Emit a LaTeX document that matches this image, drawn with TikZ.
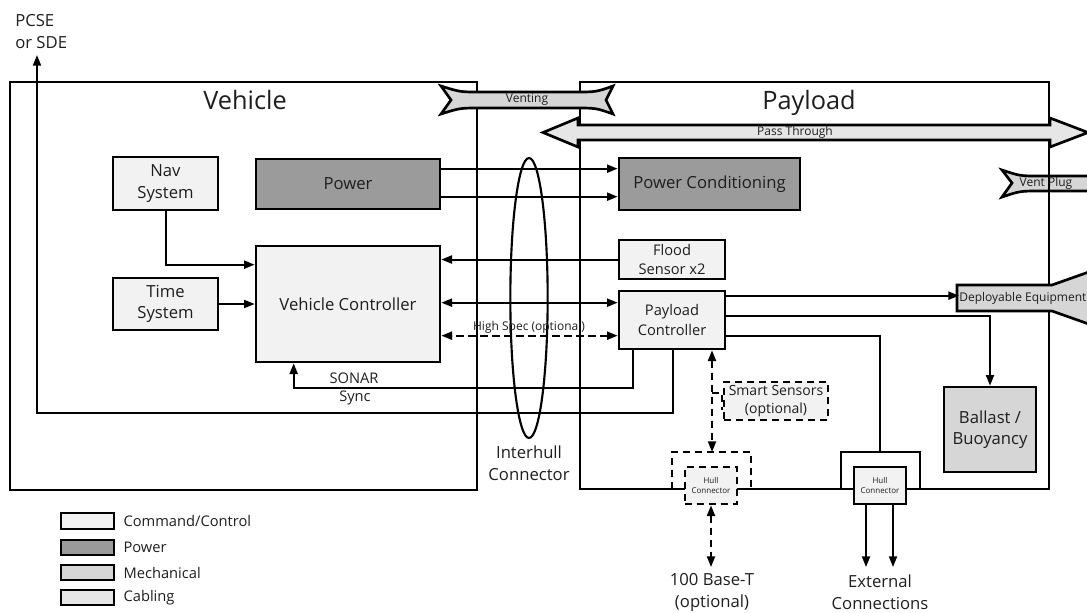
\documentclass[tikz,border=0pt]{standalone}
\usepackage{fontspec}
\setmainfont{Open Sans}
\usetikzlibrary{arrows.meta, positioning, calc, shapes.geometric}
\definecolor{cmd_gray}{HTML}{F2F2F2}
\definecolor{pow_gray}{HTML}{9B9B9B}
\definecolor{mech_gray}{HTML}{D6D6D6}
\definecolor{cab_gray}{HTML}{E6E6E6}
\definecolor{txt_gray}{HTML}{1E1E1E}
\tikzset{sz/.style 2 args={minimum width=#1*0.75pt, minimum height=#2*0.75pt}}

\begin{document}
\begin{tikzpicture}[
    x=0.75pt, y=-0.75pt,
    blk/.style={draw, line width=2pt, inner sep=0pt, align=center, text=txt_gray,
                font=\fontsize{12.5}{16}\selectfont},
    cmdbox/.style={blk, fill=cmd_gray},
    powbox/.style={blk, fill=pow_gray},
    mechbox/.style={blk, fill=mech_gray},
    cabbox/.style={blk, fill=cab_gray},
    wall/.style={line width=2pt},
    wire/.style={line width=1.5pt},
    arr/.style={wire, -{Triangle[length=8pt, width=6pt]}},
    darr/.style={wire, {Triangle[length=8pt, width=6pt]}-{Triangle[length=8pt, width=6pt]}},
    dashy/.style={dash pattern=on 5.5pt off 3.5pt},
    smalltxt/.style={text=txt_gray, inner sep=0pt, font=\fontsize{9}{10}\selectfont},
    midtxt/.style={text=txt_gray, inner sep=0pt, align=center, font=\fontsize{11}{14.5}\selectfont},
    bigtxt/.style={text=txt_gray, inner sep=0pt, align=center, font=\fontsize{12.5}{16.5}\selectfont}
]
\useasboundingbox (0,0) rectangle (1087,612);

% -------- Vent plug (under the payload wall) ----------------
\draw[wall, fill=mech_gray]
    (1002,170) .. controls (1020,176) .. (1040,176) -- (1080,176)
    .. controls (1100,176) .. (1118,170) -- (1108,183) -- (1118,197)
    .. controls (1100,191) .. (1080,191) -- (1040,191)
    .. controls (1020,191) .. (1002,197) -- (1012,183) -- cycle;
\node[smalltxt] (ventplug) at (1046,183) {Vent Plug};

% -------- Hulls ---------------------------------------------
\draw[wall] (10,82) rectangle (477,490);
\draw[wall] (580,82) rectangle (1049,489);
\node[text=txt_gray, anchor=base, font=\fontsize{19}{22}\selectfont] (vehtitle) at (245,109) {Vehicle};
\node[text=txt_gray, anchor=base, font=\fontsize{19}{22}\selectfont] (paytitle) at (809,109) {Payload};

% -------- Venting, pass through, deployable -----------------
\draw[wall, fill=mech_gray]
    (441,86) .. controls (460,92) .. (480,92) -- (575,92)
    .. controls (596,92) .. (613,86) -- (606,100) -- (613,114)
    .. controls (596,108) .. (575,108) -- (480,108)
    .. controls (460,108) .. (441,114) -- (451,100) -- cycle;
\node[smalltxt] (venting) at (527,100) {Venting};

\draw[wall, fill=cab_gray]
    (543,132.5) -- (578,118) -- (578,125) -- (1050,125) -- (1050,118)
    -- (1088,132.5) -- (1050,147) -- (1050,140) -- (578,140) -- (578,147) -- cycle;
\node[smalltxt] (passthru) at (795,132) {Pass Through};

\draw[wall, fill=mech_gray]
    (957,285) -- (1052,285) -- (1100,268) -- (1100,328) -- (1052,311) -- (957,311) -- cycle;
\node[smalltxt, anchor=west] (deploy) at (959,298) {Deployable Equipment};

% -------- Vehicle blocks ------------------------------------
\node[cmdbox, sz={105}{53}] (nav) at (165.5,183.5) {Nav\\System};
\node[powbox, sz={184}{50}] (power) at (348,184) {Power};
\node[cmdbox, sz={105}{52}] (time) at (165.5,304) {Time\\System};
\node[cmdbox, sz={184}{116}] (vc) at (348,304) {Vehicle Controller};

% -------- Payload blocks ------------------------------------
\node[powbox, sz={181}{52}] (pcond) at (709.5,184) {Power Conditioning};
\node[cmdbox, sz={106}{39}, font=\fontsize{11}{14.5}\selectfont] (flood) at (672,259.5) {Flood\\Sensor x2};
\node[cmdbox, sz={106}{58}, font=\fontsize{11}{14.5}\selectfont] (pc) at (672,320) {Payload\\Controller};
\node[cmdbox, dashy, sz={104}{38}, font=\fontsize{10.5}{13.5}\selectfont] (smart) at (776,401) {Smart Sensors\\(optional)};
\node[mechbox, sz={92}{85}] (ballast) at (990,429.5) {Ballast /\\Buoyancy};

% -------- Hull connectors -----------------------------------
\draw[wall, dashy] (672,489) |- (751,452) -- (751,489);
\node[cmdbox, dashy, sz={52}{37}, font=\fontsize{6}{7.5}\selectfont] (hullL) at (711,485.5) {Hull\\Connector};
\coordinate (hltop) at (712,452);
\draw[wall] (841,489) |- (920,452) -- (920,489);
\node[cmdbox, sz={52}{37}, font=\fontsize{6}{7.5}\selectfont] (hullR) at (880,485.5) {Hull\\Connector};
\coordinate (hrtop) at (880,452);

% -------- Interhull connector -------------------------------
\node[draw, ellipse, line width=1.6pt, inner sep=0pt,
      minimum width=28pt, minimum height=210pt] (ihull) at (529,298) {};
\node[bigtxt] (ihlabel) at (529,463) {Interhull\\Connector};

% -------- Vehicle wiring ------------------------------------
\draw[arr] (nav.south) |- ($(vc.north west)+(0,20)$);
\draw[arr] (time.east) -- (vc.west);
\coordinate (pw1) at ($(power.north east)+(0,11)$);
\coordinate (pw2) at ($(power.north east)+(0,39)$);
\draw[arr] (pw1) -- (pw1 -| pcond.west);
\draw[arr] (pw2) -- (pw2 -| pcond.west);
\draw[arr] (flood.west) -- (flood.west -| vc.east);
\coordinate (hs1) at ($(pc.north west)+(0,13)$);
\coordinate (hs2) at ($(pc.north west)+(0,46)$);
\draw[darr] (hs1) -- (hs1 -| vc.east);
\draw[darr, dashy] (hs2) -- (hs2 -| vc.east);
\node[smalltxt] (hslabel) at (529,327) {High Spec (optional)};

% SONAR sync and PCSE
\draw[arr] ($(pc.south west)+(15,0)$) |- ($(vc.south west)+(39,25)$) -- ($(vc.south west)+(39,0)$);
\node[midtxt] (sonar) at (354,378) {SONAR};
\node[midtxt] (sync) at (355,398) {Sync};
\coordinate (pcsetip) at (37,55);
\coordinate (pcsecorner) at (37,413);
\draw[arr] ($(pc.south west)+(55,0)$) |- (pcsecorner) -- (pcsetip);
\node[bigtxt, anchor=north west, align=left] (pcse) at (15,14) {PCSE\\or SDE};

% -------- Payload wiring ------------------------------------
\coordinate (po1) at ($(pc.north east)+(0,6)$);
\coordinate (po2) at ($(pc.north east)+(0,26)$);
\coordinate (po3) at ($(pc.north east)+(0,46)$);
\draw[arr] (po1) -- (po1 -| deploy.west);
\draw[arr] (po2) -| (ballast.north);
\draw[wire] (po3) -| (hrtop);
\draw[darr, dashy] (pc.south -| hltop) -- (hltop);
\draw[wire, dashy] (712,393) -- ++(10,0) -- ++(0,17);
\coordinate (basetip) at (711,567);
\draw[darr, dashy] (hullL.south) -- (basetip);
\node[bigtxt] (basetxt) at (712,592) {100 Base-T\\(optional)};
\coordinate (ext1) at (866,567);
\coordinate (ext2) at (893,567);
\draw[arr] (hullR.south -| ext1) -- (ext1);
\draw[arr] (hullR.south -| ext2) -- (ext2);
\node[bigtxt] (exttxt) at (880,592) {External\\Connections};

% -------- Legend --------------------------------------------
\node[cmdbox, sz={53}{16}] (lgcmd) at (87.5,521) {};
\node[powbox, sz={53}{15}] (lgpow) at (87.5,547.5) {};
\node[mechbox, sz={53}{15}] (lgmech) at (87.5,572.5) {};
\node[cabbox, sz={53}{15}] (lgcab) at (87.5,597.5) {};
\node[midtxt, right=6pt of lgcmd] {Command/Control};
\node[midtxt, right=6pt of lgpow] {Power};
\node[midtxt, right=6pt of lgmech] {Mechanical};
\node[midtxt, right=6pt of lgcab] {Cabling};

\end{tikzpicture}
\end{document}
